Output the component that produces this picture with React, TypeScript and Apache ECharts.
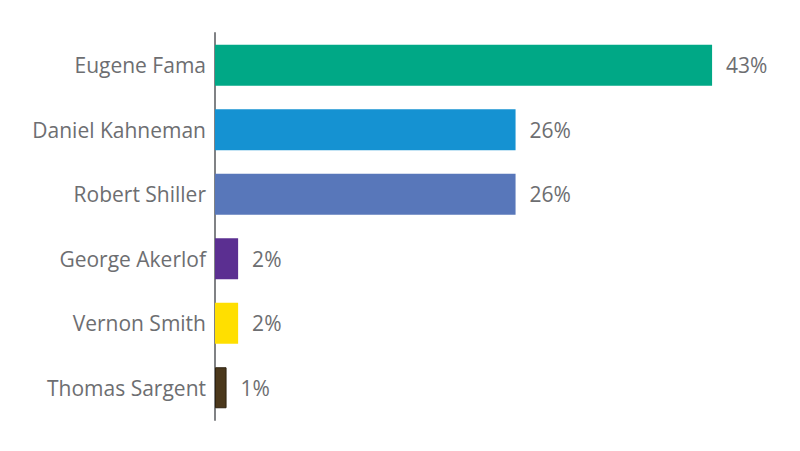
import React, { useEffect, useRef } from "react";
import * as echarts from "echarts";

const categories = ["Eugene Fama", "Daniel Kahneman", "Robert Shiller", "George Akerlof", "Vernon Smith", "Thomas Sargent"];
const values = [43, 26, 26, 2, 2, 1];
const colors = ["#00A886", "#1592D2", "#5877BA", "#5B2F91", "#FFDF00", "#4B381C"];

export default function App() {
  const ref = useRef<HTMLDivElement>(null);
  useEffect(() => {
    const chart = echarts.init(ref.current!, null, { renderer: "svg" });
    chart.setOption({
      animation: false,
      grid: { left: 215, right: 7, top: 33, bottom: 31, containLabel: false },
      xAxis: {
        type: "value",
        min: 0,
        max: 50,
        show: false,
      },
      yAxis: {
        type: "category",
        data: categories,
        inverse: true,
        axisLine: { show: true, lineStyle: { color: "#808285", width: 2 } },
        axisTick: { show: false },
        axisLabel: {
          color: "#6D6E71",
          fontSize: 21,
          fontFamily: "Open Sans",
          margin: 9,
        },
      },
      series: [
        {
          type: "bar",
          data: values.map((v, i) => ({
            value: v,
            itemStyle: {
              color: colors[i],
              borderColor: i === 5 ? "#2e2210" : undefined,
              borderWidth: i === 5 ? 1 : 0,
            },
          })),
          barWidth: 41,
          label: {
            show: true,
            position: "right",
            distance: 14,
            formatter: "{c}%",
            color: "#6D6E71",
            fontSize: 21,
            fontFamily: "Open Sans",
          },
        },
      ],
    });
    return () => chart.dispose();
  }, []);
  return <div ref={ref} style={{ width: 800, height: 451, position: "absolute", left: 0, top: 0, background: "#fff" }} />;
}
